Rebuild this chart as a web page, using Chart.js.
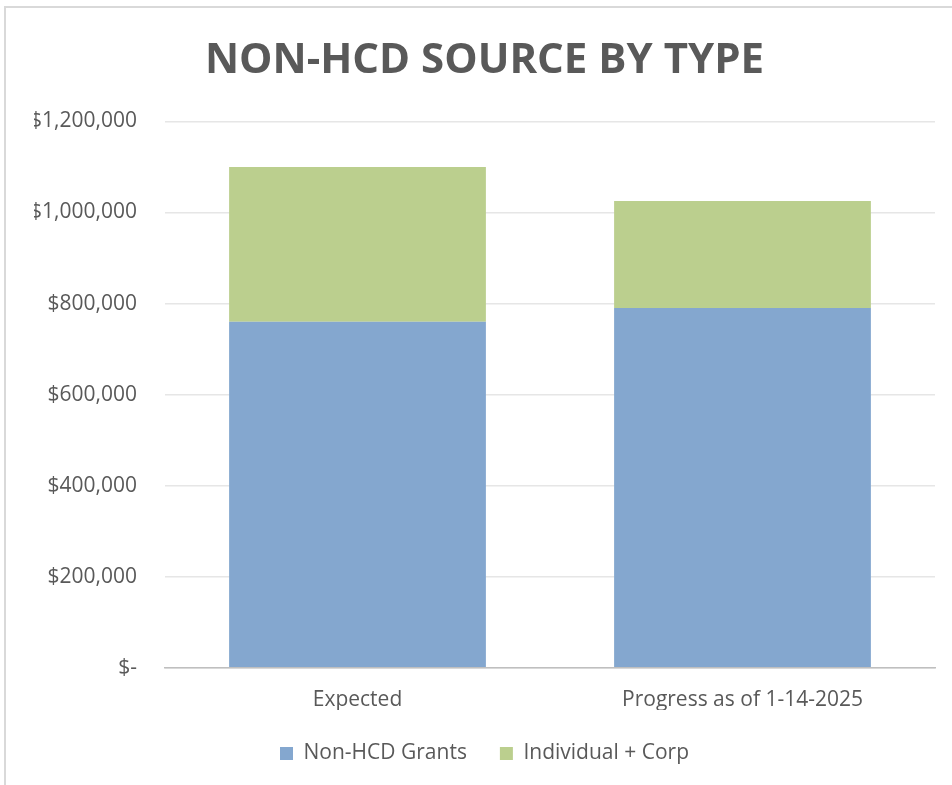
<!DOCTYPE html>
<html>
<head>
<meta charset="utf-8">
<script src="https://cdn.jsdelivr.net/npm/chart.js@4"></script>
<style>
  html, body { margin: 0; padding: 0; background: #fff; }
  #wrap { position: relative; width: 952px; height: 785px; }
  #frame { position: absolute; left: 4px; top: 6px; width: 960px; height: 800px;
           border-left: 2px solid #d9d9d9; border-top: 2px solid #d9d9d9; }
  canvas { position: absolute; left: 0; top: 0; }
</style>
</head>
<body>
<div id="wrap">
  <div id="frame"></div>
  <canvas id="chart" width="952" height="785"></canvas>
</div>
<script>
// ==== Data ====
const categories = ['Expected', 'Progress as of 1-14-2025'];
const grantsValues = [760000, 790000];       // Non-HCD Grants
const individualValues = [340000, 235000];   // Individual + Corp
const yTicks = [0, 200000, 400000, 600000, 800000, 1000000, 1200000];

const FONT = "'Open Sans', 'Liberation Sans', sans-serif";
const TEXT_COLOR = '#595959';

const fmtMoney = (v) => v === 0 ? '$-' : '$' + v.toLocaleString('en-US');

new Chart(document.getElementById('chart').getContext('2d'), {
  type: 'bar',
  data: {
    labels: categories,
    datasets: [
      { label: 'Non-HCD Grants', data: grantsValues, backgroundColor: '#84a7cf',
        barPercentage: 0.667, categoryPercentage: 1.0 },
      { label: 'Individual + Corp', data: individualValues, backgroundColor: '#bbcf8e',
        barPercentage: 0.667, categoryPercentage: 1.0 }
    ]
  },
  options: {
    responsive: false,
    animation: false,
    layout: { padding: { left: 34, right: 17, top: 36, bottom: 11 } },
    plugins: {
      title: {
        display: true,
        text: 'NON-HCD SOURCE BY TYPE',
        color: TEXT_COLOR,
        font: { family: FONT, size: 42, weight: 'bold' },
        padding: { top: 0, bottom: 35 }
      },
      legend: {
        position: 'bottom',
        labels: {
          color: TEXT_COLOR,
          font: { family: FONT, size: 21 },
          boxWidth: 13, boxHeight: 13, padding: 33
        }
      },
      tooltip: { enabled: false }
    },
    scales: {
      x: {
        stacked: true,
        grid: { display: false },
        border: { color: '#bfbfbf', width: 1.5 },
        ticks: { color: TEXT_COLOR, font: { family: FONT, size: 21 }, padding: 12 },
        afterFit: (axis) => { axis.height -= 15; }
      },
      y: {
        stacked: true,
        min: 0, max: 1200000,
        afterBuildTicks: (axis) => { axis.ticks = yTicks.map(v => ({ value: v })); },
        afterFit: (axis) => { axis.width = 131; },
        grid: { color: '#e6e6e6', lineWidth: 1.5, drawTicks: false },
        border: { display: false },
        ticks: { color: TEXT_COLOR, font: { family: FONT, size: 21 }, padding: 28,
                 callback: (v) => fmtMoney(v) }
      }
    }
  }
});
</script>
</body>
</html>
